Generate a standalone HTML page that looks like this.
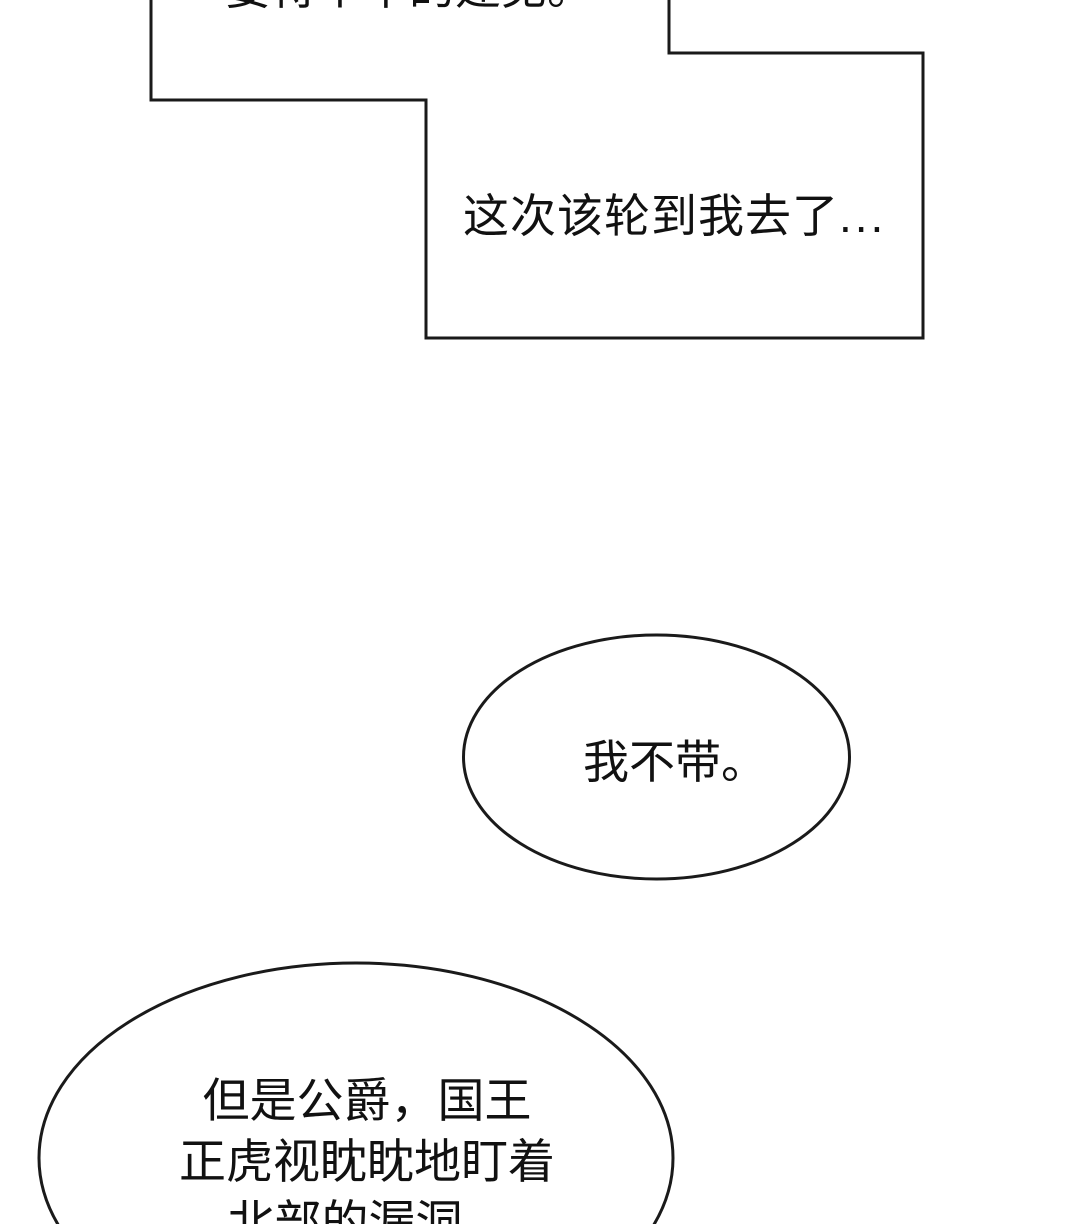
<!DOCTYPE html>
<html><head><meta charset="utf-8"><style>
html,body{margin:0;padding:0;background:#fff;width:1080px;height:1224px;overflow:hidden;}
svg{display:block;}
text{font-family:"Liberation Sans","Noto Sans CJK SC",sans-serif;fill:#111;}
</style></head><body>
<svg width="1080" height="1224" viewBox="0 0 1080 1224" xmlns="http://www.w3.org/2000/svg">
<rect width="1080" height="1224" fill="#fff"/>
<polyline points="151,-5 151,100 426,100 426,338 923,338 923,53 669,53 669,-5" fill="#fff" stroke="#1a1a1a" stroke-width="3"/>
<text x="225" y="4" font-size="46">要待个单的建见。</text>
<text x="463" y="232" font-size="46" letter-spacing="1">这次该轮到我去了<tspan letter-spacing="3">...</tspan></text>
<ellipse cx="656.5" cy="757" rx="193" ry="122" fill="#fff" stroke="#1a1a1a" stroke-width="3"/>
<text x="583" y="778" font-size="46">我不带。</text>
<ellipse cx="356" cy="1158" rx="317" ry="195" fill="#fff" stroke="#1a1a1a" stroke-width="3"/>
<text x="367" y="1117" font-size="47" text-anchor="middle">但是公爵，国王</text>
<text x="367" y="1178" font-size="47" text-anchor="middle">正虎视眈眈地盯着</text>
<text x="345" y="1239" font-size="47" text-anchor="middle">北部的漏洞</text>
</svg>
</body></html>
